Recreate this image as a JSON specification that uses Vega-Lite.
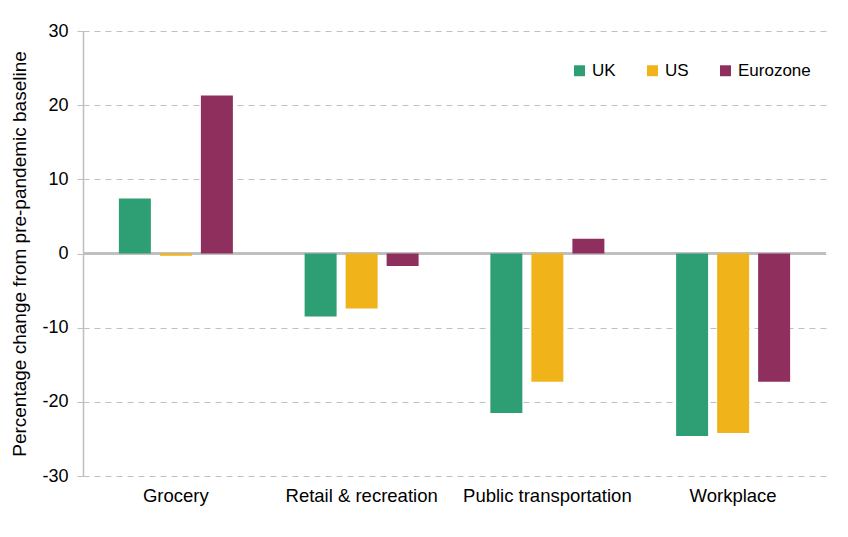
{
  "$schema": "https://vega.github.io/schema/vega-lite/v6.json",
  "autosize": "none",
  "width": 743,
  "height": 445,
  "padding": {"left": 83, "top": 31, "right": 22, "bottom": 61},
  "background": "white",
  "config": {
    "font": "Liberation Sans",
    "view": {"stroke": null}
  },
  "data": {
    "values": [
      {"category": "Grocery", "region": "UK", "value": 7.4},
      {"category": "Grocery", "region": "US", "value": -0.3},
      {"category": "Grocery", "region": "Eurozone", "value": 21.3},
      {"category": "Retail & recreation", "region": "UK", "value": -8.5},
      {"category": "Retail & recreation", "region": "US", "value": -7.4},
      {"category": "Retail & recreation", "region": "Eurozone", "value": -1.7},
      {"category": "Public transportation", "region": "UK", "value": -21.5},
      {"category": "Public transportation", "region": "US", "value": -17.3},
      {"category": "Public transportation", "region": "Eurozone", "value": 2.0},
      {"category": "Workplace", "region": "UK", "value": -24.6},
      {"category": "Workplace", "region": "US", "value": -24.2},
      {"category": "Workplace", "region": "Eurozone", "value": -17.3}
    ]
  },
  "layer": [
    {
      "mark": {"type": "rule", "color": "#bfbfbf", "strokeWidth": 1.5},
      "encoding": {"y": {"datum": 0, "type": "quantitative", "scale": {"domain": [-30, 30], "nice": false, "zero": false}}}
    },
    {
      "mark": {"type": "bar"},
      "encoding": {
        "x": {
          "field": "category", "type": "nominal", "sort": null,
          "scale": {"paddingInner": 0, "paddingOuter": 0},
          "axis": {"title": null, "domain": false, "ticks": false, "labelAngle": 0,
                   "labelFontSize": 18.5, "labelColor": "#000000", "labelPadding": 10, "grid": false}
        },
        "xOffset": {
          "field": "region", "type": "nominal", "sort": ["UK", "US", "Eurozone"],
          "scale": {"paddingInner": 0.22, "paddingOuter": 0.875}
        },
        "y": {
          "field": "value", "type": "quantitative",
          "scale": {"domain": [-30, 30], "nice": false, "zero": false},
          "axis": {
            "title": "Percentage change from pre-pandemic baseline",
            "titleFontSize": 19, "titleFontWeight": "normal", "titleColor": "#000000", "titlePadding": 12,
            "values": [-30, -20, -10, 0, 10, 20, 30],
            "labelExpr": "replace(datum.label, '\u2212', '-')",
            "labelFontSize": 18, "labelColor": "#000000", "labelPadding": 9,
            "domainColor": "#bfbfbf", "domainWidth": 1.5,
            "tickColor": "#bfbfbf", "tickSize": 6, "tickDash": [6, 4],
            "grid": true, "gridColor": "#c0c0c0", "gridDash": [6, 5], "gridWidth": 1.2
          }
        },
        "color": {
          "field": "region", "type": "nominal",
          "sort": ["UK", "US", "Eurozone"],
          "scale": {"domain": ["UK", "US", "Eurozone"], "range": ["#2e9e74", "#f0b41a", "#8e2f5e"]},
          "legend": {
            "title": null, "orient": "none", "legendX": 488, "legendY": 31, "direction": "horizontal",
            "symbolType": "square", "symbolSize": 120, "labelFontSize": 17, "labelColor": "#000000",
            "columnPadding": 28, "padding": 0
          }
        }
      }
    }
  ]
}
